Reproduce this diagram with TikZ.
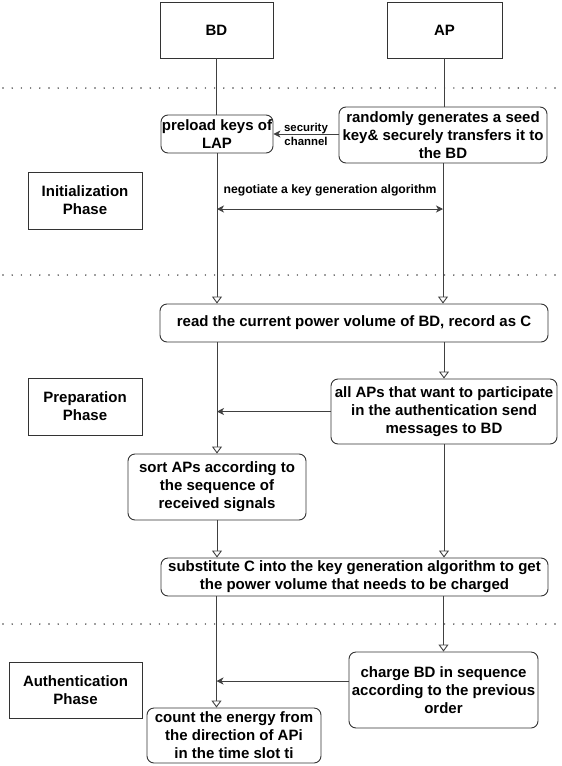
\documentclass[tikz,border=0pt]{standalone}
\usepackage{fontspec}
\setmainfont{Liberation Sans}
\usetikzlibrary{arrows.meta}
\tikzset{
	box/.style={draw=black!80, line width=0.9pt, inner sep=0pt, align=center, font=\bfseries\fontsize{15}{18}\selectfont},
	roundbox/.style={box, rounded corners=7pt},
	lineflow/.style={draw=black!75, line width=0.9pt},
	openflow/.style={lineflow, -{Triangle[open, length=7pt, width=10pt, fill=white]}},
	msgflow/.style={lineflow, -{Stealth[length=7pt, width=7pt, inset=2pt]}},
	phaseline/.style={draw=black!75, line width=1.6pt, line cap=round, dash pattern=on 0pt off 9.2pt},
	smalltext/.style={font=\bfseries\fontsize{11.4}{14}\selectfont, align=center}
}

\begin{document}
\begin{tikzpicture}[x=1pt, y=-1pt]
		%%%%% START %%%%%
		\useasboundingbox (0,0) rectangle (562,766);
		
		% phase separators
		\draw[phaseline] (3,88) -- (562,88);
		\draw[phaseline] (3,275) -- (562,275);
		\draw[phaseline] (3,624) -- (562,624);
		
		% entities
		\node[box, minimum width=113pt, minimum height=56pt] (BD) at (216.5,30) {BD};
		\node[box, minimum width=115pt, minimum height=56pt] (AP) at (444.5,30) {AP};
		
		% phase labels
		\node[box, minimum width=114pt, minimum height=57pt] (init) at (85,200.5) {Initialization\\Phase};
		\node[box, minimum width=114pt, minimum height=57pt] (prep) at (85,406.5) {Preparation\\Phase};
		\node[box, minimum width=133pt, minimum height=56pt] (auth) at (75.5,690) {Authentication\\Phase};
		
		% initialization
		\node[roundbox, minimum width=112pt, minimum height=38pt] (preload) at (217,134) {preload keys of\\LAP};
		\node[roundbox, minimum width=208pt, minimum height=56pt] (random) at (443,135) {randomly generates a seed\\key\& securely transfers it to\\the BD};
		
		% preparation
		\node[roundbox, minimum width=388pt, minimum height=38pt] (read) at (354,323) {read the current power volume of BD, record as C};
		\node[roundbox, minimum width=226pt, minimum height=65pt] (apsend) at (444,411.5) {all APs that want to participate\\in the authentication send\\messages to BD};
		\node[roundbox, minimum width=178pt, minimum height=66pt] (sort) at (217,487) {sort APs according to\\the sequence of\\received signals};
		\node[roundbox, minimum width=387pt, minimum height=38pt] (subst) at (354.5,577) {substitute C into the key generation algorithm to get\\the power volume that needs to be charged};
		
		% authentication
		\node[roundbox, minimum width=189pt, minimum height=76pt] (charge) at (443.5,690) {charge BD in sequence\\according to the previous\\order};
		\node[roundbox, minimum width=174pt, minimum height=55pt] (count) at (234,735.5) {count the energy from\\the direction of APi\\in the time slot ti};
		
		\coordinate (neg) at (0,209);
		
		\draw[lineflow] (BD.south) -- (BD.south |- preload.north);
		\draw[lineflow] (AP.south) -- (AP.south |- random.north);
		\draw[msgflow] (random.west |- preload.east) -- (preload.east) node[smalltext, midway] {security\\channel};
		\draw[lineflow, {Stealth[length=7pt, width=7pt, inset=2pt]}-{Stealth[length=7pt, width=7pt, inset=2pt]}] (neg -| preload) -- (neg -| random) node[smalltext, font=\bfseries\fontsize{12.2}{14}\selectfont, midway, above=9pt] {negotiate a key generation algorithm};
		
		\draw[openflow] (preload.south) -- (preload.south |- read.north);
		\draw[openflow] (random.south) -- (random.south |- read.north);
		\draw[openflow] (read.south -| sort) -- (sort.north);
		\draw[openflow] (read.south -| apsend) -- (apsend.north);
		\draw[msgflow] (apsend.west) -- (apsend.west -| sort);
		\draw[openflow] (sort.south) -- (sort.south |- subst.north);
		\draw[openflow] (apsend.south) -- (apsend.south |- subst.north);
		
		\draw[openflow] (subst.south -| BD) -- (count.north -| BD);
		\draw[openflow] (subst.south -| charge) -- (charge.north);
		\draw[msgflow] ([yshift=9pt]charge.west) -- ([yshift=9pt]charge.west -| BD);
		%%%%% END %%%%%
	\end{tikzpicture}
\end{document}
